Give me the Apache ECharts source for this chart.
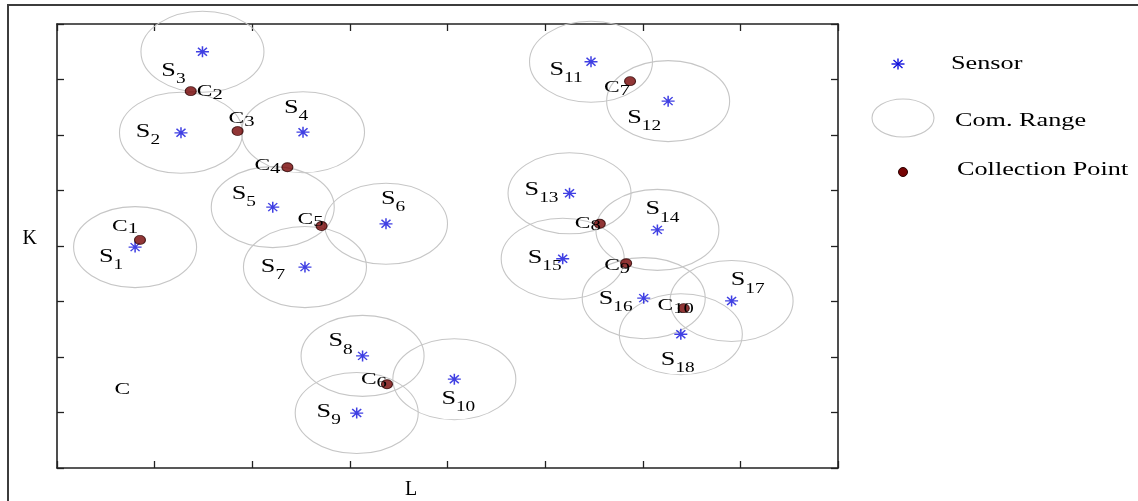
<!DOCTYPE html>
<html><head><meta charset="utf-8">
<script src="https://cdn.jsdelivr.net/npm/echarts@6/dist/echarts.min.js"></script>
<style>html,body{margin:0;padding:0;background:#fff}#c{width:1138px;height:501px}</style>
</head><body><div id="c"></div>
<script>
// ---------- data ----------
const sensorNames = ['S1','S2','S3','S4','S5','S6','S7','S8','S9','S10','S11','S12','S13','S14','S15','S16','S17','S18'];
const sensorX = [0.80,1.27,1.49,2.52,2.21,3.37,2.54,3.13,3.07,4.07,5.47,6.26,5.25,6.15,5.18,6.01,6.91,6.39];
const sensorY = [3.98,6.04,7.50,6.05,4.70,4.40,3.62,2.02,0.99,1.60,7.32,6.61,4.95,4.29,3.77,3.06,3.01,2.41];
const pointNames = ['C1','C2','C3','C4','C5','C6','C7','C8','C9','C10'];
const pointX = [0.85,1.37,1.85,2.36,2.71,3.38,5.87,5.56,5.83,6.42];
const pointY = [4.11,6.79,6.07,5.42,4.36,1.51,6.97,4.40,3.69,2.88];
const commRangeX = 0.63;   // communication range, in axis units
const commRangeY = 0.73;
const noteText = ['C'];
const noteX = [0.67];
const noteY = [1.41];
const legendNames = ['Sensor','Com. Range','Collection Point'];

// ---------- label layout (pixel offsets of label centre from mark) ----------
const sensorLabelOffset = {
  S1:[-24,10], S2:[-33,0], S3:[-29,20], S4:[-7,-24], S5:[-29,-13], S6:[7,-24], S7:[-32,0],
  S8:[-22,-14], S9:[-28,-1], S10:[4,20], S11:[-25,9], S12:[-24,17], S13:[-28,-3], S14:[5,-20],
  S15:[-18,0], S16:[-28,1], S17:[16,-20], S18:[-3,26]
};
const pointLabelOffset = {
  C1:[-15,-13], C2:[19,1], C3:[4,-12], C4:[-20,-1], C5:[-11,-6], C6:[-13,-4],
  C7:[-13,7], C8:[-12,0], C9:[-9,3], C10:[-8,-2]
};
const SX = 1.38;            // horizontal stretch of the original artwork
const FONT = "'Liberation Serif','Times New Roman',serif";
const TEXT = '#000';
const BLUE = '#1010dc';
const RED = '#760404';

function richLabel(name, big, small, drop) {
  const letter = name[0], idx = name.slice(1);
  return {
    text: idx ? '{b|' + letter + '}{n|' + idx + '}' : '{b|' + letter + '}',
    rich: {
      b: {fontSize: big, lineHeight: big + 1, verticalAlign: 'top', fontFamily: FONT, fill: TEXT},
      n: {fontSize: small, lineHeight: small, verticalAlign: 'top', padding: [drop, 0, 0, 0], fontFamily: FONT, fill: TEXT}
    }
  };
}

function labelSeries(name, xs, ys, names, offsets, big, small, drop) {
  return {
    name: name, type: 'custom', coordinateSystem: 'cartesian2d', silent: true, z: 5,
    data: xs.map((x, i) => [x, ys[i]]),
    renderItem: function (params, api) {
      const p = api.coord([api.value(0), api.value(1)]);
      const nm = names[params.dataIndex];
      const off = offsets ? (offsets[nm] || [0, 0]) : [0, 0];
      const r = richLabel(nm, big, small, drop);
      return {
        type: 'text', x: p[0] + off[0], y: p[1] + off[1], scaleX: SX,
        style: {text: r.text, rich: r.rich, align: 'center', verticalAlign: 'middle',
                fontFamily: FONT, fontSize: big, fill: TEXT}
      };
    }
  };
}

const chart = echarts.init(document.getElementById('c'), null, {renderer: 'canvas'});

const axisCommon = {
  type: 'value', min: 0, max: 8, interval: 1,
  axisLine: {show: true, onZero: false, lineStyle: {color: '#222', width: 1.6}},
  axisTick: {show: true, inside: true, length: 7, lineStyle: {color: '#222', width: 1.3}},
  axisLabel: {show: false},
  splitLine: {show: false}
};

const option = {
  backgroundColor: '#fff',
  animation: false,
  grid: {left: 57, top: 24, right: 300, bottom: 33, containLabel: false, outerBoundsMode: 'none'},
  xAxis: [
    Object.assign({}, axisCommon, {position: 'bottom', name: 'L', nameLocation: 'middle', nameGap: 12,
      nameTextStyle: {fontFamily: FONT, fontSize: 20, color: TEXT, padding: [0, 73, 0, 0]}}),
    Object.assign({}, axisCommon, {position: 'top'})
  ],
  yAxis: [
    Object.assign({}, axisCommon, {position: 'left', name: 'K', nameLocation: 'middle', nameGap: 20, nameRotate: 0,
      nameTextStyle: {fontFamily: FONT, fontSize: 20, color: TEXT, verticalAlign: 'bottom', lineHeight: 14}}),
    Object.assign({}, axisCommon, {position: 'right'})
  ],
  series: [
    {
      name: 'Com. Range', type: 'custom', coordinateSystem: 'cartesian2d', silent: true, z: 1,
      data: sensorX.map((x, i) => [x, sensorY[i]]),
      renderItem: function (params, api) {
        const c = api.coord([api.value(0), api.value(1)]);
        const s = api.size([commRangeX, commRangeY]);
        return {type: 'ellipse', shape: {cx: c[0], cy: c[1], rx: s[0], ry: s[1]},
                style: {fill: null, stroke: '#c6c6c6', lineWidth: 1.1}};
      }
    },
    {
      name: 'Sensor', type: 'scatter', z: 3,
      symbol: 'path://M0,5.5L13,5.5M6.5,0L6.5,11M2,1.5L11,9.5M2,9.5L11,1.5',
      symbolSize: [13, 11],
      itemStyle: {color: 'rgba(0,0,0,0)', borderColor: BLUE, borderWidth: 1.4},
      data: sensorX.map((x, i) => ({name: sensorNames[i], value: [x, sensorY[i]]}))
    },
    {
      name: 'Collection Point', type: 'scatter', z: 4,
      symbol: 'circle', symbolSize: [11, 9],
      itemStyle: {color: RED, borderColor: '#2a0000', borderWidth: 1},
      data: pointX.map((x, i) => ({name: pointNames[i], value: [x, pointY[i]]}))
    },
    labelSeries('Sensor labels', sensorX, sensorY, sensorNames, sensorLabelOffset, 19, 14, 11),
    labelSeries('Collection labels', pointX, pointY, pointNames, pointLabelOffset, 17, 15, 4),
    labelSeries('Note', noteX, noteY, noteText, null, 17, 14, 6)
  ],
  graphic: [
    {type: 'rect', silent: true, shape: {x: 8, y: 5, width: 1300, height: 700},
     style: {fill: null, stroke: '#3c3c3c', lineWidth: 2}},
    {type: 'group', x: 898, y: 64, children: [
      {type: 'line', shape: {x1: -6.5, y1: 0, x2: 6.5, y2: 0}, style: {stroke: BLUE, lineWidth: 1.4}},
      {type: 'line', shape: {x1: 0, y1: -5.5, x2: 0, y2: 5.5}, style: {stroke: BLUE, lineWidth: 1.4}},
      {type: 'line', shape: {x1: -4.5, y1: -4, x2: 4.5, y2: 4}, style: {stroke: BLUE, lineWidth: 1.4}},
      {type: 'line', shape: {x1: -4.5, y1: 4, x2: 4.5, y2: -4}, style: {stroke: BLUE, lineWidth: 1.4}}
    ]},
    {type: 'text', x: 951, y: 64, scaleX: SX,
     style: {text: legendNames[0], fontFamily: FONT, fontSize: 19, fill: TEXT, align: 'left', verticalAlign: 'middle'}},
    {type: 'ellipse', shape: {cx: 903, cy: 118, rx: 31, ry: 19},
     style: {fill: null, stroke: '#c6c6c6', lineWidth: 1.1}},
    {type: 'text', x: 955, y: 121, scaleX: SX,
     style: {text: legendNames[1], fontFamily: FONT, fontSize: 19, fill: TEXT, align: 'left', verticalAlign: 'middle'}},
    {type: 'circle', shape: {cx: 903, cy: 172, r: 4.5},
     style: {fill: RED, stroke: '#2a0000', lineWidth: 1}},
    {type: 'text', x: 957, y: 170, scaleX: SX,
     style: {text: legendNames[2], fontFamily: FONT, fontSize: 19, fill: TEXT, align: 'left', verticalAlign: 'middle'}}
  ]
};
chart.setOption(option);
</script>
</body></html>
